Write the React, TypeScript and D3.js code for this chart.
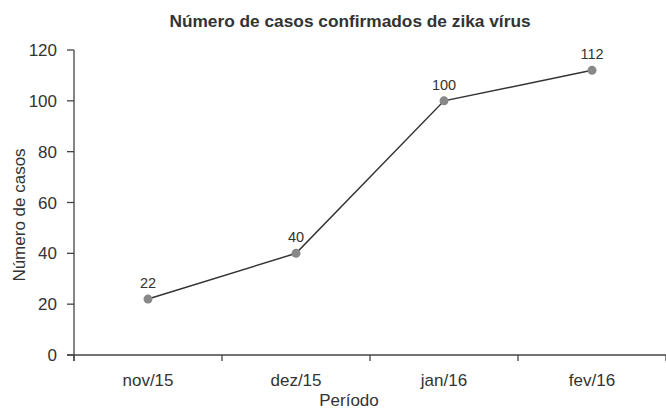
import React from "react";
import * as d3 from "d3";

const categories = ["nov/15", "dez/15", "jan/16", "fev/16"];
const values = [22, 40, 100, 112];
const yTicks = [0, 20, 40, 60, 80, 100, 120];
const title = "Número de casos confirmados de zika vírus";
const xLabel = "Período";
const yLabel = "Número de casos";

export default function App() {
  const W = 666, H = 410;
  const left = 74, right = 666, top = 50, bottom = 355;
  const x = d3.scaleBand<string>().domain(categories).range([left, right]);
  const y = d3.scaleLinear().domain([0, 120]).range([bottom, top]);
  const line = d3.line<number>()
    .x((_, i) => (x(categories[i]) as number) + x.bandwidth() / 2)
    .y((d) => y(d));
  const font = "'Liberation Sans', Arial, sans-serif";
  const tickEdges = [...categories.map((c) => x(c) as number), right];
  return (
    <svg width={W} height={H} style={{ position: "absolute", left: 0, top: 0 }} fontFamily={font}>
      <rect width={W} height={H} fill="#fff" />
      <text x={350} y={27} textAnchor="middle" fontSize={17.3} fontWeight="bold" fill="#333">{title}</text>
      {/* y axis */}
      <line x1={left} x2={left} y1={top} y2={bottom + 6} stroke="#444" strokeWidth={1.3} />
      {yTicks.map((t) => (
        <g key={t}>
          <line x1={left - 7} x2={left} y1={y(t)} y2={y(t)} stroke="#444" strokeWidth={1.3} />
          <text x={57} y={y(t)} dy="0.36em" textAnchor="end" fontSize={17} fill="#333">{t}</text>
        </g>
      ))}
      {/* x axis */}
      <line x1={left - 7} x2={right} y1={bottom} y2={bottom} stroke="#444" strokeWidth={1.3} />
      {tickEdges.map((e, i) => (
        <line key={i} x1={e} x2={e} y1={bottom} y2={bottom + 6} stroke="#444" strokeWidth={1.3} />
      ))}
      {categories.map((c) => (
        <text key={c} x={(x(c) as number) + x.bandwidth() / 2} y={386} textAnchor="middle" fontSize={17} fill="#333">{c}</text>
      ))}
      <text x={349} y={406} textAnchor="middle" fontSize={17} fill="#333">{xLabel}</text>
      <text transform={`translate(25,215) rotate(-90)`} textAnchor="middle" fontSize={17} fill="#333">{yLabel}</text>
      <path d={line(values) || ""} fill="none" stroke="#333" strokeWidth={1.5} />
      {values.map((v, i) => {
        const cx = (x(categories[i]) as number) + x.bandwidth() / 2;
        return (
          <g key={i}>
            <circle cx={cx} cy={y(v)} r={4.5} fill="#888" />
            <text x={cx} y={y(v) - 11} textAnchor="middle" fontSize={14.5} fill="#333">{v}</text>
          </g>
        );
      })}
    </svg>
  );
}
